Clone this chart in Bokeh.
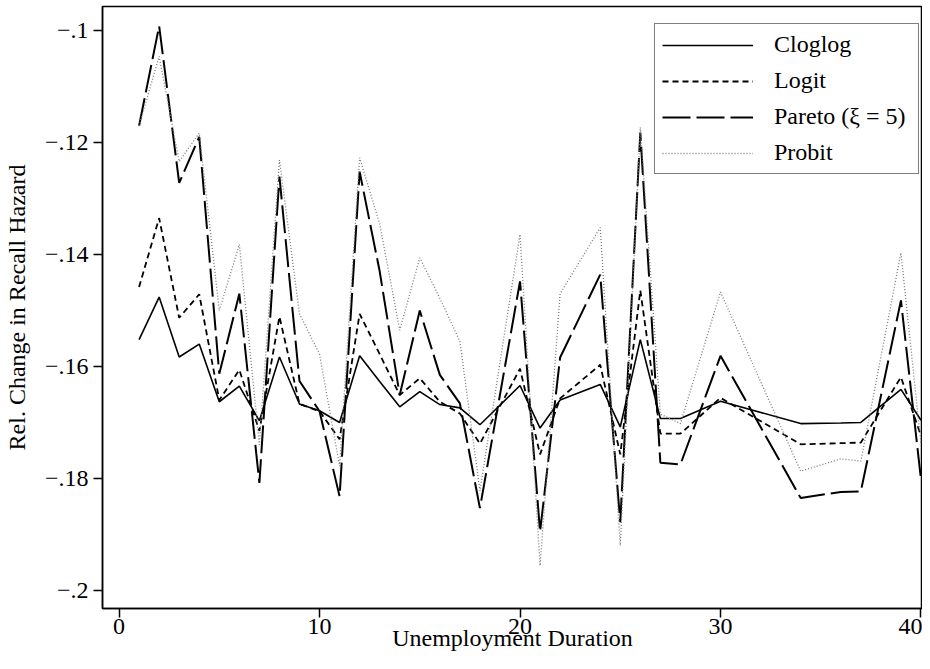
from bokeh.plotting import figure
from bokeh.models import FixedTicker, CustomJSTickFormatter, Range1d, Legend, LegendItem
from bokeh.embed import file_html
from bokeh.resources import INLINE

# Unemployment duration (weeks present in the figure)
duration = [1, 2, 3, 4, 5, 6, 7, 8, 9, 10, 11, 12, 13, 14, 15, 16, 17, 18,
            20, 21, 22, 24, 25, 26, 27, 28, 30, 34, 36, 37, 39, 40]

cloglog = [-0.1552, -0.1476, -0.1583, -0.1560, -0.1663, -0.1635, -0.1697, -0.1583,
           -0.1667, -0.1679, -0.1700, -0.1581, -0.1627, -0.1672, -0.1645, -0.1668,
           -0.1674, -0.1704, -0.1634, -0.1710, -0.1660, -0.1632, -0.1708, -0.1552,
           -0.1693, -0.1693, -0.1662, -0.1702, -0.1701, -0.1700, -0.1641, -0.1696]

logit = [-0.1458, -0.1335, -0.1513, -0.1471, -0.1660, -0.1606, -0.1715, -0.1511,
         -0.1667, -0.1680, -0.1730, -0.1506, -0.1578, -0.1651, -0.1621, -0.1663,
         -0.1684, -0.1738, -0.1604, -0.1757, -0.1657, -0.1597, -0.1757, -0.1464,
         -0.1720, -0.1720, -0.1656, -0.1739, -0.1737, -0.1736, -0.1619, -0.1724]

pareto = [-0.1170, -0.0992, -0.1272, -0.1190, -0.1613, -0.1470, -0.1808, -0.1261,
          -0.1626, -0.1680, -0.1832, -0.1252, -0.1430, -0.1651, -0.1500, -0.1615,
          -0.1666, -0.1853, -0.1448, -0.1895, -0.1584, -0.1436, -0.1878, -0.1182,
          -0.1772, -0.1775, -0.1581, -0.1835, -0.1824, -0.1823, -0.1482, -0.1802]

probit = [-0.1170, -0.1046, -0.1234, -0.1183, -0.1500, -0.1382, -0.1740, -0.1231,
          -0.1506, -0.1578, -0.1778, -0.1227, -0.1345, -0.1535, -0.1406, -0.1478,
          -0.1555, -0.1822, -0.1364, -0.1956, -0.1470, -0.1352, -0.1920, -0.1173,
          -0.1685, -0.1702, -0.1467, -0.1787, -0.1765, -0.1769, -0.1397, -0.1739]

x_ticks = [0, 10, 20, 30, 40]
y_ticks = [-0.2, -0.18, -0.16, -0.14, -0.12, -0.1]

series_names = ["Cloglog", "Logit", "Pareto (\u03be = 5)", "Probit"]
x_title = "Unemployment Duration"
y_title = "Rel. Change in Recall Hazard"

FONT = "Liberation Serif"
FS = "24px"

p = figure(width=922, height=653, output_backend="svg", toolbar_location=None,
           x_range=Range1d(-0.825, 40.075), y_range=Range1d(-0.203227, -0.095703),
           min_border_left=0, min_border_right=0, min_border_top=6, min_border_bottom=0)
p.background_fill_color = "white"
p.border_fill_color = "white"
p.outline_line_color = "black"
p.outline_line_width = 1.5
p.grid.visible = False

p.xaxis.ticker = FixedTicker(ticks=x_ticks, minor_ticks=[])
p.yaxis.ticker = FixedTicker(ticks=y_ticks, minor_ticks=[])
p.yaxis.formatter = CustomJSTickFormatter(code="""
const a = Math.abs(tick);
let s = a.toFixed(2).replace(/0+$/, '').replace(/^0/, '');
if (s.endsWith('.')) s = s.slice(0, -1);
return (tick < -1e-12 ? '\u2212' : '') + s;
""")

for ax in (p.xaxis[0], p.yaxis[0]):
    ax.axis_line_color = "black"
    ax.axis_line_width = 1.5
    ax.major_tick_line_color = "black"
    ax.major_tick_line_width = 1.5
    ax.major_tick_out = 9
    ax.major_tick_in = 0
    ax.minor_tick_out = 0
    ax.minor_tick_in = 0
    ax.major_label_text_font = FONT
    ax.major_label_text_font_size = FS
    ax.major_label_text_color = "black"
    ax.axis_label_text_font = FONT
    ax.axis_label_text_font_size = FS
    ax.axis_label_text_font_style = "normal"
    ax.axis_label_text_color = "black"

p.xaxis.axis_label = x_title
p.yaxis.axis_label = y_title
p.xaxis.major_label_standoff = 1
p.xaxis.axis_label_standoff = -12
p.yaxis.major_label_standoff = 5
p.yaxis.axis_label_standoff = 12

r1 = p.line(duration, cloglog, line_color="black", line_width=1.6)
r2 = p.line(duration, logit, line_color="black", line_width=1.8, line_dash="6 4")
r3 = p.line(duration, pareto, line_color="black", line_width=2, line_dash="28 6")
r4 = p.line(duration, probit, line_color="#7a7a7a", line_width=1.3, line_dash="1 2")

legend = Legend(items=[LegendItem(label=series_names[0], renderers=[r1]),
                       LegendItem(label=series_names[1], renderers=[r2]),
                       LegendItem(label=series_names[2], renderers=[r3]),
                       LegendItem(label=series_names[3], renderers=[r4])],
                location=(552, 434))
legend.label_text_font = FONT
legend.label_text_font_size = FS
legend.label_text_color = "black"
legend.glyph_width = 91
legend.glyph_height = 26
legend.label_height = 26
legend.label_width = 137
legend.spacing = 9
legend.padding = 7
legend.margin = 0
legend.label_standoff = 21
legend.border_line_color = "black"
legend.border_line_width = 1.5
legend.background_fill_color = "white"
legend.background_fill_alpha = 1.0
p.add_layout(legend, "center")

open("out.html", "w", encoding="utf-8").write(file_html(p, INLINE))
